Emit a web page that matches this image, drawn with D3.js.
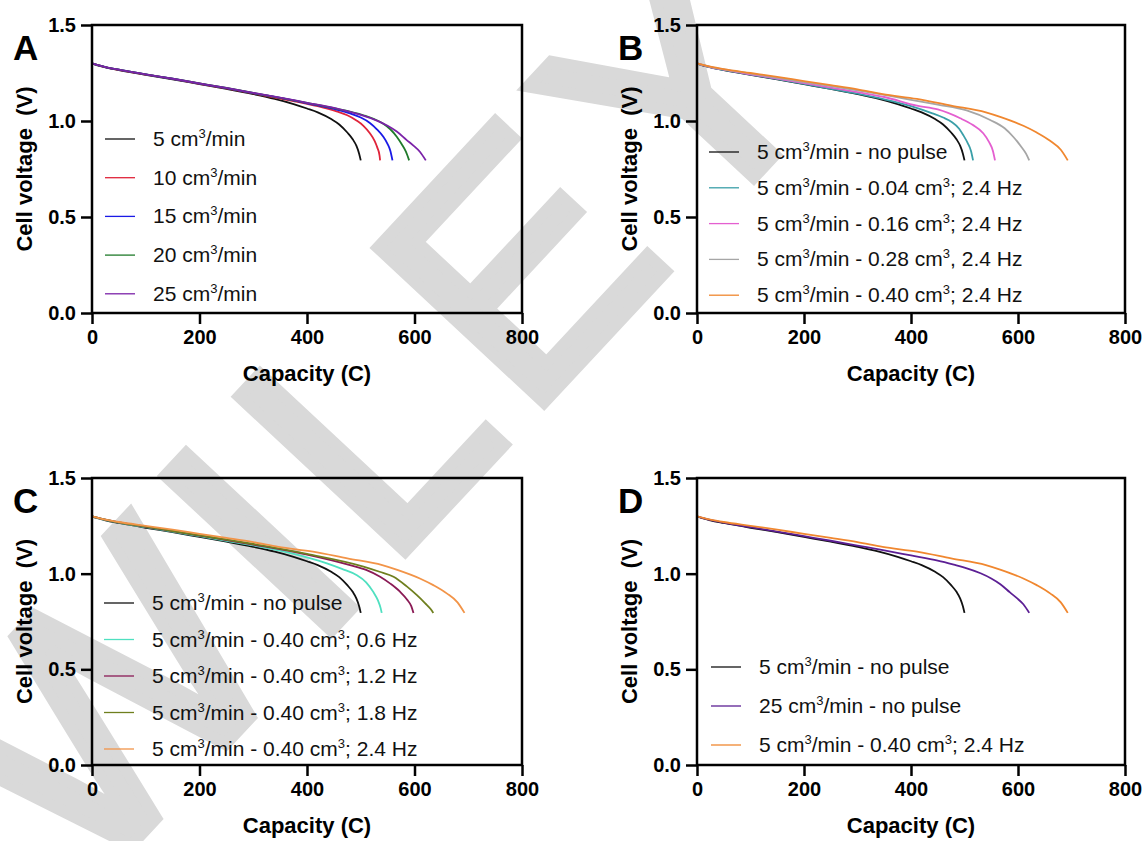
<!DOCTYPE html>
<html><head><meta charset="utf-8">
<script src="https://cdn.jsdelivr.net/npm/d3@7"></script>
<style>body{margin:0;background:#fff}</style></head>
<body>
<svg id="c" width="1147" height="841"></svg>
<script>
// ---------- data ----------
const xTicks = [0, 200, 400, 600, 800];
const yTicks = [0.0, 0.5, 1.0, 1.5];

// capacity (C), cell voltage (V)
const noPulse5 = [[0,1.30],[10,1.29],[25,1.279],[50,1.265],[100,1.24],[150,1.217],[200,1.192],[250,1.167],[300,1.14],[340,1.115],[375,1.088],[400,1.065],[420,1.045],[445,1.01],[460,0.982],[475,0.94],[485,0.905],[492,0.87],[497,0.83],[500,0.795]];
const flow10 = [[0,1.30],[25,1.28],[50,1.266],[100,1.242],[150,1.219],[200,1.194],[250,1.17],[300,1.144],[350,1.117],[387,1.097],[420,1.077],[455,1.05],[475,1.03],[492,1.003],[505,0.975],[517,0.936],[526,0.895],[531,0.86],[535,0.82],[536,0.795]];
const flow15 = [[0,1.30],[25,1.281],[50,1.267],[100,1.243],[150,1.22],[200,1.195],[250,1.171],[300,1.145],[350,1.12],[400,1.092],[450,1.063],[480,1.04],[500,1.018],[517,0.99],[530,0.957],[542,0.918],[550,0.88],[555,0.845],[559,0.795]];
const flow20 = [[0,1.30],[25,1.281],[50,1.267],[100,1.243],[150,1.22],[200,1.196],[250,1.172],[300,1.146],[350,1.121],[400,1.094],[450,1.067],[505,1.03],[525,1.01],[542,0.986],[555,0.957],[567,0.918],[576,0.88],[584,0.84],[590,0.795]];
const flow25 = [[0,1.30],[25,1.281],[50,1.267],[100,1.243],[150,1.22],[200,1.196],[250,1.172],[300,1.147],[350,1.122],[400,1.095],[450,1.068],[480,1.047],[500,1.032],[530,1.002],[550,0.975],[567,0.945],[585,0.902],[598,0.872],[610,0.84],[621,0.795]];
const pulse004Hz24 = [[0,1.30],[25,1.28],[50,1.266],[100,1.241],[150,1.218],[200,1.193],[250,1.168],[300,1.142],[350,1.113],[400,1.078],[440,1.04],[460,1.018],[476,0.995],[490,0.96],[498,0.925],[506,0.885],[512,0.845],[516,0.795]];
const pulse016Hz24 = [[0,1.30],[25,1.281],[50,1.267],[100,1.243],[150,1.221],[200,1.197],[250,1.174],[300,1.15],[350,1.125],[411,1.08],[450,1.06],[492,1.014],[515,0.98],[535,0.936],[546,0.89],[553,0.845],[557,0.795]];
const pulse028Hz24 = [[0,1.30],[25,1.282],[50,1.269],[100,1.247],[150,1.225],[200,1.203],[250,1.182],[300,1.16],[350,1.136],[400,1.11],[450,1.085],[504,1.055],[548,1.005],[575,0.962],[591,0.918],[605,0.87],[615,0.83],[621,0.795]];
const pulse040Hz24 = [[0,1.30],[25,1.283],[50,1.27],[100,1.25],[150,1.23],[200,1.208],[250,1.187],[300,1.165],[347,1.14],[411,1.115],[475,1.08],[540,1.045],[568,1.02],[610,0.975],[635,0.94],[660,0.897],[680,0.85],[693,0.795]];
const pulse040Hz06 = [[0,1.30],[25,1.281],[50,1.267],[100,1.243],[150,1.22],[200,1.196],[250,1.172],[300,1.148],[350,1.12],[400,1.085],[437,1.054],[465,1.025],[492,0.993],[510,0.955],[523,0.906],[532,0.86],[537,0.82],[539,0.795]];
const pulse040Hz12 = [[0,1.30],[25,1.282],[50,1.268],[100,1.245],[150,1.222],[200,1.199],[250,1.176],[300,1.152],[400,1.1],[480,1.045],[510,1.02],[536,0.984],[555,0.948],[573,0.906],[586,0.865],[594,0.83],[598,0.795]];
const pulse040Hz18 = [[0,1.30],[25,1.282],[50,1.268],[100,1.246],[150,1.223],[200,1.2],[250,1.178],[300,1.155],[400,1.103],[505,1.037],[535,1.01],[561,0.984],[585,0.935],[604,0.889],[620,0.845],[630,0.815],[635,0.795]];

const labelsA = ["5 cm^3/min","10 cm^3/min","15 cm^3/min","20 cm^3/min","25 cm^3/min"];
const labelsB = ["5 cm^3/min - no pulse","5 cm^3/min - 0.04 cm^3; 2.4 Hz","5 cm^3/min - 0.16 cm^3; 2.4 Hz","5 cm^3/min - 0.28 cm^3, 2.4 Hz","5 cm^3/min - 0.40 cm^3; 2.4 Hz"];
const labelsC = ["5 cm^3/min - no pulse","5 cm^3/min - 0.40 cm^3; 0.6 Hz","5 cm^3/min - 0.40 cm^3; 1.2 Hz","5 cm^3/min - 0.40 cm^3; 1.8 Hz","5 cm^3/min - 0.40 cm^3; 2.4 Hz"];
const labelsD = ["5 cm^3/min - no pulse","25 cm^3/min - no pulse","5 cm^3/min - 0.40 cm^3; 2.4 Hz"];

const seriesA = [noPulse5, flow10, flow15, flow20, flow25];
const seriesB = [noPulse5, pulse004Hz24, pulse016Hz24, pulse028Hz24, pulse040Hz24];
const seriesC = [noPulse5, pulse040Hz06, pulse040Hz12, pulse040Hz18, pulse040Hz24];
const seriesD = [noPulse5, flow25, pulse040Hz24];

const colorsA = ["#111111","#e0243a","#1a1ae6","#1f7a2a","#7b22a8"];
const colorsB = ["#111111","#3a9fa8","#e45fd0","#a6a6a6","#f0872f"];
const colorsC = ["#111111","#4fe0c0","#8a1a55","#6f7f1e","#f29448"];
const colorsD = ["#111111","#5c1f94","#f0872f"];

// ---------- layout ----------
const panels = [
  {letter:"A", series:seriesA, labels:labelsA, colors:colorsA, x0:92, x1:522, y0:25, y1:313, lx:105, ly:139, ldy:38.7},
  {letter:"B", series:seriesB, labels:labelsB, colors:colorsB, x0:697, x1:1125, y0:25, y1:313, lx:709, ly:152, ldy:35.8},
  {letter:"C", series:seriesC, labels:labelsC, colors:colorsC, x0:92, x1:522, y0:478, y1:765, lx:104, ly:603, ldy:36.5},
  {letter:"D", series:seriesD, labels:labelsD, colors:colorsD, x0:697, x1:1125, y0:478, y1:765, lx:711, ly:667, ldy:39}
];

const svg = d3.select("#c");
const FONT = "Arial, 'Liberation Sans', Helvetica, sans-serif";

// watermark
svg.append("text")
  .attr("transform","translate(385,405) rotate(-47)")
  .attr("text-anchor","middle").attr("dominant-baseline","central")
  .attr("font-family",FONT).attr("font-size",330)
  .attr("fill","#d9d9d9").attr("stroke","#d9d9d9").attr("stroke-width",12)
  .attr("letter-spacing",20)
  .text("WILEY");

panels.forEach(p => {
  const g = svg.append("g");
  const x = d3.scaleLinear().domain([0,800]).range([p.x0,p.x1]);
  const y = d3.scaleLinear().domain([0,1.5]).range([p.y1,p.y0]);

  // curves
  const line = d3.line().x(d=>x(d[0])).y(d=>y(d[1])).curve(d3.curveMonotoneX);
  p.series.forEach((s,i) => {
    g.append("path").datum(s).attr("d",line)
      .attr("fill","none").attr("stroke",p.colors[i]).attr("stroke-width",1.8)
      .attr("stroke-linejoin","round");
  });

  // frame
  g.append("rect").attr("x",p.x0).attr("y",p.y0).attr("width",p.x1-p.x0).attr("height",p.y1-p.y0)
    .attr("fill","none").attr("stroke","#000").attr("stroke-width",2.5);

  // axes
  const xa = g.append("g").attr("transform",`translate(0,${p.y1})`)
    .call(d3.axisBottom(x).tickValues(xTicks).tickFormat(d3.format("d")).tickSize(11).tickPadding(6));
  const ya = g.append("g").attr("transform",`translate(${p.x0},0)`)
    .call(d3.axisLeft(y).tickValues(yTicks).tickFormat(d3.format(".1f")).tickSize(11).tickPadding(5));
  [xa,ya].forEach(a => {
    a.select(".domain").remove();
    a.selectAll("line").attr("stroke","#000").attr("stroke-width",2.5);
    a.selectAll("text").attr("font-family",FONT).attr("font-size",20).attr("font-weight","bold").attr("fill","#000");
  });

  // axis titles
  g.append("text").attr("x",(p.x0+p.x1)/2).attr("y",p.y1+68)
    .attr("text-anchor","middle").attr("font-family",FONT).attr("font-size",22).attr("font-weight","bold")
    .text("Capacity (C)");
  g.append("text").attr("transform",`translate(${p.x0-60},${(p.y0+p.y1)/2}) rotate(-90)`)
    .attr("text-anchor","middle").attr("font-family",FONT).attr("font-size",22).attr("font-weight","bold")
    .attr("xml:space","preserve").style("white-space","pre")
    .text("Cell voltage  (V)");

  // panel letter
  g.append("text").attr("x",p.x0-79).attr("y",p.y0+35)
    .attr("font-family",FONT).attr("font-size",35).attr("font-weight","bold").text(p.letter);

  // legend
  p.labels.forEach((lab,i) => {
    const yy = p.ly + i*p.ldy;
    g.append("line").attr("x1",p.lx).attr("x2",p.lx+30).attr("y1",yy).attr("y2",yy)
      .attr("stroke",p.colors[i]).attr("stroke-width",1.3);
    const t = g.append("text").attr("x",p.lx+48).attr("y",yy+7)
      .attr("font-family",FONT).attr("font-size",21).attr("fill","#111");
    const parts = lab.split("^3");
    parts.forEach((pt,j) => {
      t.append("tspan").text(pt).attr("dy", j===0?0:8);
      if (j < parts.length-1) {
        t.append("tspan").text("3").attr("font-size",13).attr("dy",-8);
      }
    });
  });
});
</script>
</body></html>
